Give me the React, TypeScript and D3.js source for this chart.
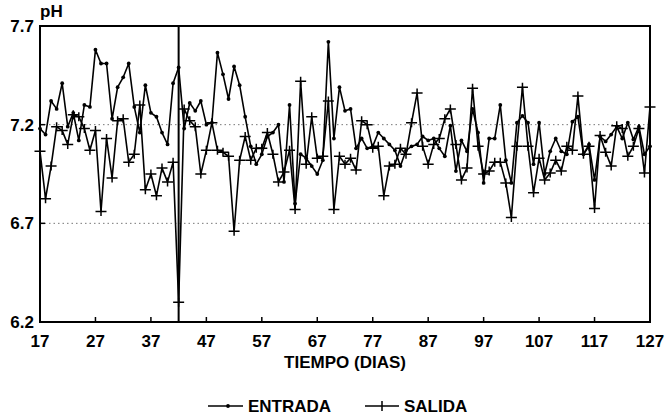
import * as d3 from 'd3';

// pH readings, one per day from day 17 to day 127
const firstDay = 17;
const entrada = [
  7.18, 7.15, 7.32, 7.28, 7.41, 7.19, 7.26, 7.12, 7.3, 7.29,
  7.58, 7.51, 7.51, 7.23, 7.39, 7.44, 7.51, 7.29, 7.16, 7.4,
  7.26, 7.24, 7.16, 7.1, 7.41, 7.49, 7.18, 7.31, 7.27, 7.32,
  7.2, 7.21, 7.565, 7.455, 7.33, 7.495, 7.4, 7.24, 7.09, 7.0,
  7.05, 7.14, 7.16, 7.2, 6.91, 7.3, 6.8, 7.05, 7.03, 6.99,
  6.95, 7.02, 7.62, 7.13, 7.39, 7.27, 7.28, 7.08, 7.13, 7.08,
  7.09, 7.16, 7.13, 7.1, 7.07, 6.99, 7.07, 7.09, 7.1, 7.14,
  7.12, 7.13, 7.08, 7.04, 7.195, 6.965, 7.12, 7.065, 7.28, 7.16,
  6.905, 7.13, 7.13, 7.3, 7.02, 6.905, 7.21, 7.245, 7.21, 7.0,
  7.21, 6.95, 7.065, 7.13, 7.065, 7.05, 7.215, 7.24, 7.05, 7.1,
  6.92, 7.14, 7.115, 7.15, 7.19, 7.13, 7.21, 7.125, 7.19, 7.05,
  7.09,
];
const salida = [
  7.065, 6.825, 6.99, 7.19, 7.17, 7.1, 7.25, 7.24, 7.18, 7.07,
  7.17, 6.76, 7.13, 6.93, 7.22, 7.23, 7.01, 7.05, 7.3, 6.87,
  6.95, 6.84, 6.98, 6.91, 7.01, 6.3, 7.28, 7.22, 7.19, 6.95,
  7.07, 7.21, 7.07, 7.06, 7.04, 6.66, 7.02, 7.14, 7.02, 7.08,
  7.08, 7.16, 7.05, 6.91, 6.96, 7.07, 6.77, 7.42, 7.0, 7.24,
  7.03, 7.04, 7.32, 6.77, 7.04, 7.0, 7.03, 6.97, 7.22, 7.2,
  7.08, 7.09, 6.84, 6.99, 7.0, 7.08, 7.05, 7.21, 7.36, 7.09,
  7.0, 7.1, 7.13, 7.23, 7.28, 7.1, 6.92, 6.98, 7.385, 7.09,
  6.95, 6.965, 7.01, 7.01, 6.905, 6.73, 7.09, 7.39, 7.09, 6.855,
  7.03, 6.92, 6.955, 7.02, 6.965, 7.09, 7.07, 7.345, 7.05, 7.09,
  6.775, 7.145, 7.06, 6.99, 7.195, 7.18, 7.04, 7.09, 7.18, 6.955,
  7.29,
];
const xTicks = [17, 27, 37, 47, 57, 67, 77, 87, 97, 107, 117, 127];
const yTicks = [6.2, 6.7, 7.2, 7.7];
const gridLines = [6.7, 7.2];
const eventDay = 42;

const width = 667;
const height = 419;
const marginLeft = 40;
const marginRight = 17;
const marginTop = 26;
const plotBottom = 322;

const font = "'Liberation Sans', Arial, sans-serif";

export default function App() {
  const x = d3.scaleLinear([17, 127], [marginLeft, width - marginRight]);
  const y = d3.scaleLinear([6.2, 7.7], [plotBottom, marginTop]);
  const line = d3
    .line<number>()
    .x((d, i) => x(firstDay + i))
    .y((d) => y(d));

  return (
    <svg
      width={width}
      height={height}
      style={{ position: 'absolute', left: 0, top: 0, background: '#fff' }}
      fontFamily={font}
      fontWeight="bold"
    >
      {/* grid */}
      {gridLines.map((g) => (
        <line
          key={g}
          x1={x(17)}
          x2={x(127)}
          y1={y(g)}
          y2={y(g)}
          stroke="#777"
          strokeWidth={1}
          strokeDasharray="1.5 3"
        />
      ))}

      {/* frame */}
      <rect
        x={x(17)}
        y={y(7.7)}
        width={x(127) - x(17)}
        height={y(6.2) - y(7.7)}
        fill="none"
        stroke="#000"
        strokeWidth={2}
      />

      {/* ticks */}
      {xTicks.map((t) => (
        <g key={t}>
          <line x1={x(t)} x2={x(t)} y1={plotBottom} y2={plotBottom - 5} stroke="#000" strokeWidth={1.5} />
          <text x={x(t)} y={plotBottom + 25} textAnchor="middle" fontSize={17}>
            {t}
          </text>
        </g>
      ))}
      {yTicks.map((t) => (
        <g key={t}>
          <line x1={marginLeft} x2={marginLeft + 5} y1={y(t)} y2={y(t)} stroke="#000" strokeWidth={1.5} />
          <text x={marginLeft - 6} y={y(t) + 6} textAnchor="end" fontSize={17}>
            {t.toFixed(1)}
          </text>
        </g>
      ))}

      <text x={marginLeft} y={17} fontSize={17}>
        pH
      </text>
      <text x={(x(17) + x(127)) / 2} y={368} textAnchor="middle" fontSize={17}>
        TIEMPO (DIAS)
      </text>

      {/* event line */}
      <line
        x1={x(eventDay)}
        x2={x(eventDay)}
        y1={y(7.7)}
        y2={y(6.2)}
        stroke="#000"
        strokeWidth={2}
      />

      {/* series */}
      <path d={line(entrada) ?? ''} fill="none" stroke="#000" strokeWidth={1.6} strokeLinejoin="round" />
      <path d={line(salida) ?? ''} fill="none" stroke="#000" strokeWidth={1.6} strokeLinejoin="round" />
      {entrada.map((v, i) => (
        <circle key={i} cx={x(firstDay + i)} cy={y(v)} r={1.9} fill="#000" />
      ))}
      {salida.map((v, i) => (
        <path
          key={i}
          d={`M${x(firstDay + i) - 5.5},${y(v)}h11M${x(firstDay + i)},${y(v) - 4.5}v9`}
          stroke="#000"
          strokeWidth={1.5}
        />
      ))}

      {/* legend */}
      <g>
        <line x1={208} x2={243} y1={406} y2={406} stroke="#000" strokeWidth={1.5} />
        <circle cx={228} cy={406} r={1.9} fill="#000" />
        <text x={248} y={412} fontSize={17}>
          ENTRADA
        </text>
        <line x1={365} x2={399} y1={406} y2={406} stroke="#000" strokeWidth={1.5} />
        <line x1={382} x2={382} y1={401} y2={411} stroke="#000" strokeWidth={1.5} />
        <text x={404} y={412} fontSize={17}>
          SALIDA
        </text>
      </g>
    </svg>
  );
}
